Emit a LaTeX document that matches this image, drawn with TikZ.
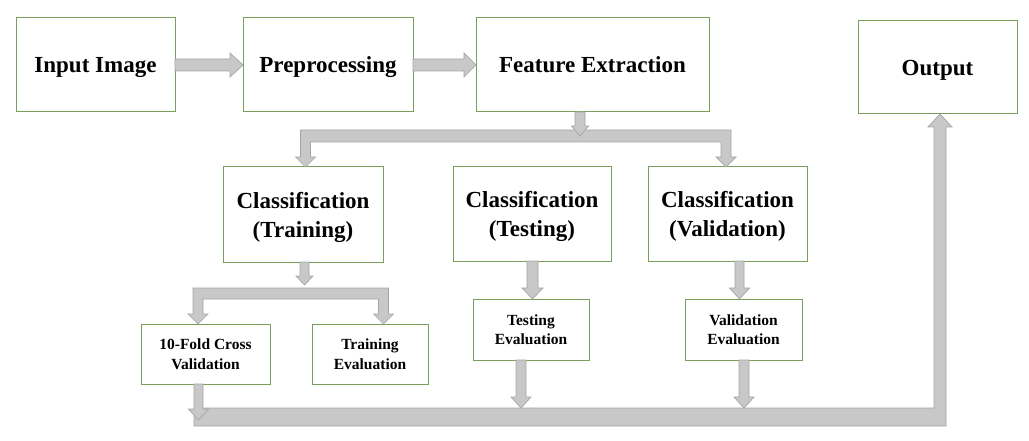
\documentclass[tikz,border=0pt]{standalone}
\usepackage{fontspec}
\setmainfont{Liberation Serif}
\usetikzlibrary{calc}
\definecolor{boxgreen}{RGB}{120,160,90}
\definecolor{arrfill}{RGB}{200,200,200}
\definecolor{arrline}{RGB}{165,165,165}
\tikzset{
  box/.style={draw=boxgreen, line width=1pt, fill=white, inner sep=0pt, outer sep=0pt,
    align=center, text depth=0pt, font=\bfseries\fontsize{23}{29}\selectfont},
  smallbox/.style={box, font=\bfseries\fontsize{15.5}{19.5}\selectfont},
  blk/.style={fill=arrfill, draw=arrline, line width=0.7pt, line join=miter},
}
% horizontal block arrow (rightward): from, to, half shaft, half head, head length
\newcommand{\hblock}[5]{\filldraw[blk] let \p1=(#1), \p2=(#2) in
  (\x1,\y1+#3) -- (\x2-#5,\y1+#3) -- (\x2-#5,\y1+#4) -- (\x2,\y1) -- (\x2-#5,\y1-#4)
  -- (\x2-#5,\y1-#3) -- (\x1,\y1-#3) -- cycle;}
% vertical block arrow (downward): from, to (tip), half shaft, half head, head length
\newcommand{\vblock}[5]{\filldraw[blk] let \p1=(#1), \p2=(#2) in
  (\x1-#3,\y1) -- (\x1+#3,\y1) -- (\x1+#3,\y2+#5) -- (\x1+#4,\y2+#5) -- (\x1,\y2)
  -- (\x1-#4,\y2+#5) -- (\x1-#3,\y2+#5) -- cycle;}
% split block arrow: left tip, right tip, bar top point, bar thickness, half shaft, half head, head length
\newcommand{\splitdown}[7]{\filldraw[blk] let \p1=(#1), \p2=(#2), \p3=(#3) in
  (\x1-#5,\y3) -- (\x2+#5,\y3) -- (\x2+#5,\y2+#7) -- (\x2+#6,\y2+#7) -- (\x2,\y2)
  -- (\x2-#6,\y2+#7) -- (\x2-#5,\y2+#7) -- (\x2-#5,\y3-#4) -- (\x1+#5,\y3-#4)
  -- (\x1+#5,\y1+#7) -- (\x1+#6,\y1+#7) -- (\x1,\y1) -- (\x1-#6,\y1+#7)
  -- (\x1-#5,\y1+#7) -- cycle;}
% L-shaped block arrow: left end of bar (centre), up tip
\newcommand{\lblock}[2]{\filldraw[blk] let \p1=(#1), \p2=(#2) in
  (\x1,\y1+9pt) -- (\x2-6pt,\y1+9pt) -- (\x2-6pt,\y2-13pt) -- (\x2-12pt,\y2-13pt)
  -- (\x2,\y2) -- (\x2+12pt,\y2-13pt) -- (\x2+6pt,\y2-13pt) -- (\x2+6pt,\y1-9pt)
  -- (\x1,\y1-9pt) -- cycle;}
\begin{document}
\begin{tikzpicture}[x=1pt,y=-1pt]
\useasboundingbox[fill=white] (0,0) rectangle (1029,441);
% top row
\node[box, minimum width=159pt, minimum height=94pt] (in)  at (95.5,65)  {Input Image};
\node[box, minimum width=170pt, minimum height=94pt] (pre) at (328,65)   {Preprocessing};
\node[box, minimum width=233pt, minimum height=94pt] (fe)  at (592.5,65) {Feature Extraction};
\node[box, minimum width=159pt, minimum height=93pt] (out) at (937.5,67.5) {Output};
% classification row
\node[box, minimum width=160pt, minimum height=95pt] (ctr) at (303,214.5) {Classification\\(Training)};
\node[box, minimum width=158pt, minimum height=94pt] (cte) at (532,214)   {Classification\\(Testing)};
\node[box, minimum width=159pt, minimum height=94pt] (cva) at (727.5,214) {Classification\\(Validation)};
% evaluation row
\node[smallbox, minimum width=129pt, minimum height=60pt] (kf)  at (205.5,354) {10-Fold Cross\\Validation};
\node[smallbox, minimum width=116pt, minimum height=60pt] (tre) at (370,354)   {Training\\Evaluation};
\node[smallbox, minimum width=116pt, minimum height=61pt] (tee) at (531,329.5) {Testing\\Evaluation};
\node[smallbox, minimum width=117pt, minimum height=61pt] (vae) at (743.5,329.5) {Validation\\Evaluation};
% junction coordinates
\coordinate (sp1top) at (580,130);
\coordinate (sp1tip) at (580,136);
\coordinate (sp2top) at (304.5,288);
\coordinate (sp2tip) at (304.5,285);
\coordinate (bbar)   at (194,417);
\coordinate (kftip)  at (198.5,420);
\coordinate (teetip) at (521,408);
\coordinate (vaetip) at (744,408);
% connectors
\hblock{in.east}{pre.west}{6pt}{12pt}{13pt}
\hblock{pre.east}{fe.west}{6pt}{12pt}{12pt}
\splitdown{[xshift=2.5pt]ctr.north}{[xshift=-1.5pt]cva.north}{sp1top}{12pt}{5pt}{10pt}{10pt}
\vblock{[xshift=-12.5pt]fe.south}{sp1tip}{5pt}{8.5pt}{10pt}
\vblock{[xshift=1.5pt]ctr.south}{sp2tip}{4.5pt}{8.5pt}{9pt}
\splitdown{[xshift=-7.5pt]kf.north}{[xshift=13.5pt]tre.north}{sp2top}{11pt}{5pt}{10pt}{10pt}
\vblock{[xshift=0.5pt]cte.south}{tee.north}{5.5pt}{10.5pt}{11pt}
\vblock{[xshift=12pt]cva.south}{vae.north}{4.5pt}{10pt}{11pt}
\lblock{bbar}{[xshift=2.5pt]out.south}
\vblock{[xshift=-7pt]kf.south}{kftip}{4.5pt}{10pt}{11pt}
\vblock{[xshift=-10pt]tee.south}{teetip}{5pt}{10pt}{11pt}
\vblock{[xshift=0.5pt]vae.south}{vaetip}{5pt}{10pt}{11pt}
\end{tikzpicture}
\end{document}
